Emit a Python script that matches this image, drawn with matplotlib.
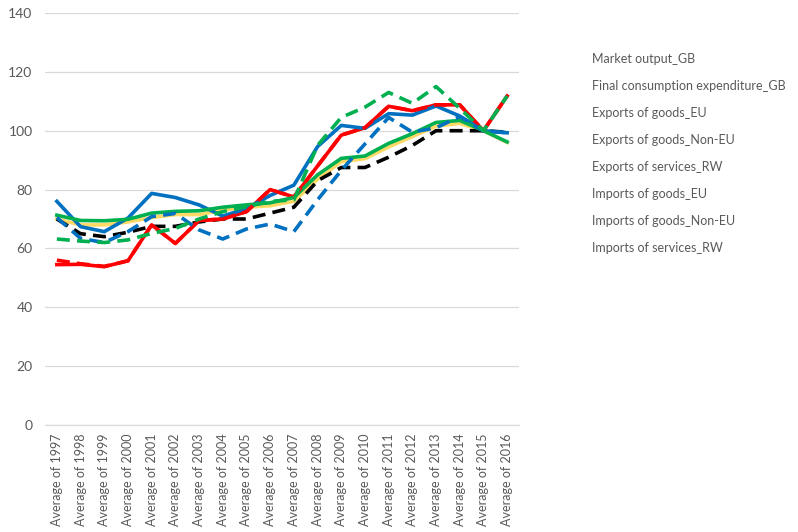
import matplotlib
matplotlib.use("Agg")
import matplotlib.pyplot as plt
from matplotlib.lines import Line2D

plt.rcParams['font.family'] = ['Lato', 'DejaVu Sans']

years = list(range(1997, 2017))
categories = [f"Average of {y}" for y in years]

market_output_gb = [70, 68, 68, 69, 70.5, 71.5, 71.5, 73, 74, 74.5, 76, 83.5, 89.5, 90.5, 94.5, 98, 101.5, 102.5, 100, 96]
final_consumption_gb = [70, 65, 64, 65.5, 67.5, 67.5, 69, 70, 70, 72, 74, 83, 87.5, 87.5, 91, 95, 100, 100, 100, 99.5]
exports_goods_eu = [54.5, 54.6, 53.8, 55.8, 68, 61.7, 69.5, 70, 72.5, 80, 77.5, 88, 98.5, 101, 108.3, 106.8, 108.8, 108.8, 100, 111.8]
exports_goods_noneu = [76, 67.4, 65.7, 70.3, 78.7, 77.3, 74.8, 71, 73.5, 78, 81.5, 94.6, 101.8, 100.8, 105.8, 105.3, 108.4, 105, 100, 99.3]
exports_services_rw = [71.3, 69.5, 69.4, 69.9, 72, 72.6, 72.8, 74, 74.8, 75.5, 77.3, 85, 90.6, 91.4, 95.7, 99, 102.8, 103.5, 100, 96.2]
imports_goods_eu = [56, 54.8, 53.9, 55.8, 68, 61.7, 69.5, 70, 72.5, 80, 77.5, 88, 98.5, 101, 108.3, 106.8, 108.8, 108.8, 100, 111.8]
imports_goods_noneu = [70.5, 63.4, 62, 65.7, 70.8, 71.9, 66.3, 63.2, 66.6, 68.3, 65.7, 76.5, 86.5, 95.5, 104.5, 99.5, 101, 104.8, 100, 99.3]
imports_services_rw = [63.2, 62.5, 62, 62.9, 65.1, 66.8, 70, 72.5, 74.2, 76, 76.5, 95, 104.5, 108, 113, 109.3, 115, 107.6, 100, 111.8]

series_names = [
    "Market output_GB",
    "Final consumption expenditure_GB",
    "Exports of goods_EU",
    "Exports of goods_Non-EU",
    "Exports of services_RW",
    "Imports of goods_EU",
    "Imports of goods_Non-EU",
    "Imports of services_RW",
]
series_values = [market_output_gb, final_consumption_gb, exports_goods_eu, exports_goods_noneu,
                 exports_services_rw, imports_goods_eu, imports_goods_noneu, imports_services_rw]
series_colors = ["#FFD966", "#000000", "#FF0000", "#0070C0", "#00B050", "#FF0000", "#0070C0", "#00B050"]
series_dashed = [False, True, False, False, False, True, True, True]

fig = plt.figure(figsize=(7.98, 5.32), dpi=100)
ax = fig.add_axes([45/798, 1-425/532, (519-45)/798, (425-13)/532])

x = list(range(len(categories)))
for name, vals, col, dashed in zip(series_names, series_values, series_colors, series_dashed):
    if dashed:
        ax.plot(x, vals, color=col, lw=2.6, linestyle=(0, (3.6, 2.0)), solid_capstyle='butt',
                dash_capstyle='butt', label=name)
    else:
        ax.plot(x, vals, color=col, lw=2.6, label=name, solid_joinstyle='round')

ax.set_xlim(-0.5, len(categories) - 0.5)
ax.set_ylim(0, 140)
ax.set_yticks(range(0, 141, 20))
ax.set_xticks(x)
ax.set_xticklabels(categories, rotation=90, fontsize=9, color="#595959")
ax.tick_params(axis='y', labelsize=10, colors="#595959", length=0, pad=9)
ax.tick_params(axis='x', length=0, pad=6)
ax.grid(axis='y', color="#D9D9D9", lw=0.9)
ax.set_axisbelow(True)
for s in ['top', 'right', 'left']:
    ax.spines[s].set_visible(False)
ax.spines['bottom'].set_color("#D9D9D9")
ax.spines['bottom'].set_linewidth(0.9)

handles = [Line2D([], [], color='none') for _ in series_names]
leg = fig.legend(handles, series_names, loc='upper left', bbox_to_anchor=(581/798, 1-42/532),
                 frameon=False, handlelength=0, handletextpad=0, labelspacing=1.2,
                 prop={'size': 9})
for t in leg.get_texts():
    t.set_color("#595959")

fig.savefig("out.png", dpi=100)
